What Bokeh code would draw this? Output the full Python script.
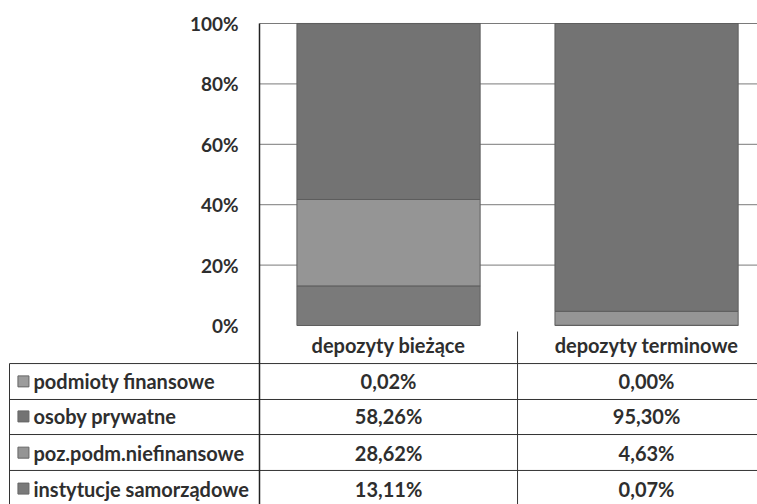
from bokeh.plotting import figure
from bokeh.models import Range1d, FixedTicker, NumeralTickFormatter, LinearAxis
from bokeh.core.properties import value
from bokeh.embed import file_html
from bokeh.resources import INLINE

# ---- data ----
categories = ["depozyty bieżące", "depozyty terminowe"]
series_names = ["instytucje samorządowe", "poz.podm.niefinansowe", "osoby prywatne", "podmioty finansowe"]
instytucje = [13.11, 0.07]
poz_podm = [28.62, 4.63]
osoby = [58.26, 95.30]
podmioty = [0.02, 0.00]
yticks = [0, 0.2, 0.4, 0.6, 0.8, 1.0]

colors = ["#7a7a7a", "#959595", "#737373", "#9c9c9c"]
FONT = "Lato"
FS = "20px"
TXT = "#2e2e2e"

series_vals = [instytucje, poz_podm, osoby, podmioty]

p = figure(width=757, height=504, output_backend="svg", toolbar_location=None,
           x_range=Range1d(-1.0039, 1.930), y_range=Range1d(-0.5927, 1.0762),
           x_axis_type=None, y_axis_type=None, min_border=0,
           outline_line_color=None)
p.background_fill_color = "white"

xs = [0.5 + i for i in range(len(categories))]

# gridlines
grid_y = [t for t in yticks if t > 0]
p.segment(x0=[0] * len(grid_y), x1=[2] * len(grid_y), y0=grid_y, y1=grid_y,
          line_color="#7a7a7a", line_width=1)

# stacked bars
bottoms = [0.0] * len(categories)
for vals, col in zip(series_vals, colors):
    tops = [b + v / 100.0 for b, v in zip(bottoms, vals)]
    p.vbar(x=xs, bottom=bottoms, top=tops, width=0.71, fill_color=col,
           line_color="#5e5e5e", line_width=1)
    bottoms = tops

# y axis
yax = LinearAxis(ticker=FixedTicker(ticks=yticks), formatter=NumeralTickFormatter(format="0%"))
yax.fixed_location = 0
yax.bounds = (-0.5927, 1.0)
yax.axis_line_color = "#222222"
yax.axis_line_width = 1.5
yax.major_tick_in = 0
yax.major_tick_out = 0
yax.minor_tick_in = 0
yax.minor_tick_out = 0
yax.major_label_standoff = 21
yax.major_label_text_font = FONT
yax.major_label_text_font_style = "bold"
yax.major_label_text_font_size = "19px"
yax.major_label_text_color = TXT
p.add_layout(yax, "left")

# ---- data table ----
header_y = -0.066
row_lines = [-0.126, -0.245, -0.361, -0.480]
row_centers = [-0.185, -0.301, -0.421, -0.540]
left_x = -0.969

p.segment(x0=[left_x] * len(row_lines), x1=[2] * len(row_lines), y0=row_lines, y1=row_lines,
          line_color="#333333", line_width=1)
p.segment(x0=[left_x, 1], x1=[left_x, 1], y0=[-0.126, -0.02], y1=[-0.5927, -0.5927],
          line_color="#333333", line_width=1)

p.text(x=xs, y=[header_y] * len(xs), text=categories, text_align="center",
       text_baseline="middle", text_font=value(FONT), text_font_style="bold",
       text_font_size=FS, text_color=TXT)

order = [3, 2, 1, 0]  # table rows top to bottom
row_labels = [series_names[i] for i in order]
row_colors = [colors[i] for i in order]
p.scatter(x=[-0.915] * 4, y=row_centers, marker="square", size=11,
          fill_color=row_colors, line_color="#666666")
p.text(x=[-0.876] * 4, y=row_centers, text=row_labels, text_align="left",
       text_baseline="middle", text_font=value(FONT), text_font_style="bold",
       text_font_size=FS, text_color=TXT)

def fmt(v):
    return f"{v:.2f}".replace(".", ",") + "%"

cell_x, cell_y, cell_t = [], [], []
for r, si in enumerate(order):
    for c, x in enumerate(xs):
        cell_x.append(x)
        cell_y.append(row_centers[r])
        cell_t.append(fmt(series_vals[si][c]))
p.text(x=cell_x, y=cell_y, text=cell_t, text_align="center", text_baseline="middle",
       text_font=value(FONT), text_font_style="bold", text_font_size=FS,
       text_color=TXT)

open("out.html", "w").write(file_html(p, INLINE))
